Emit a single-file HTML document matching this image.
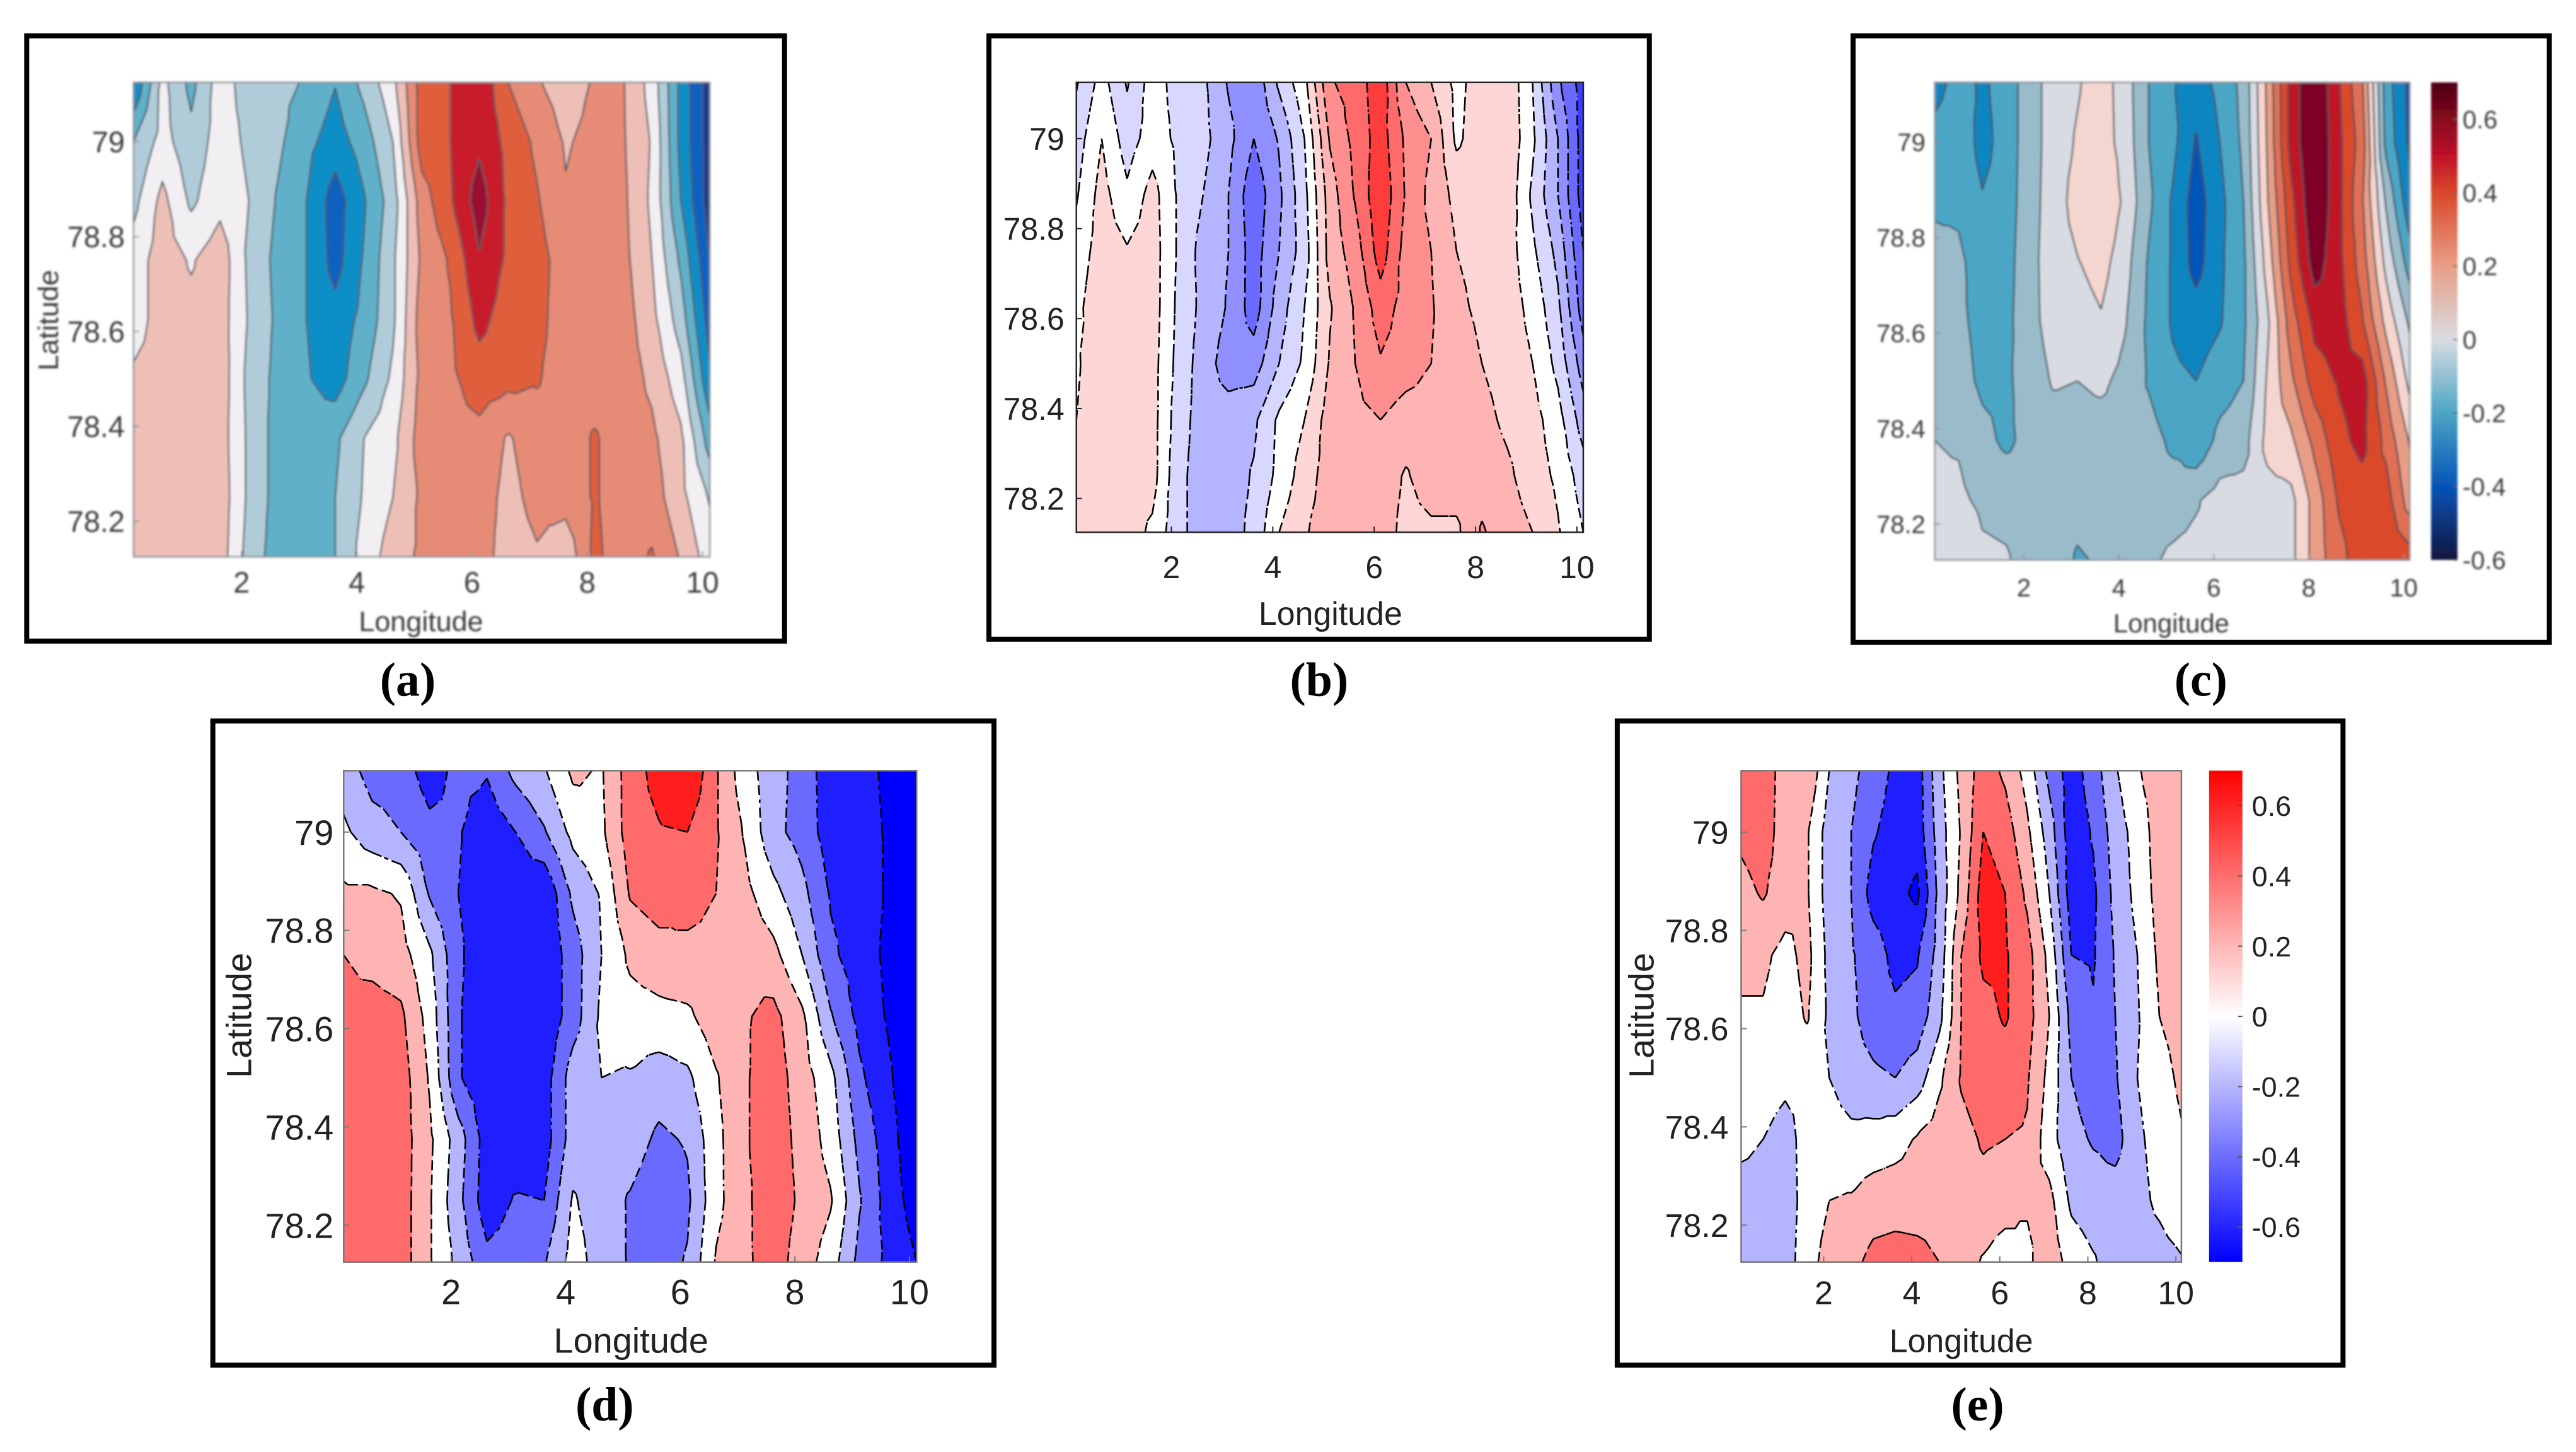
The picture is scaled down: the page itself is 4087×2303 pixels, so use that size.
<!DOCTYPE html>
<html lang="en">
<head>
<meta charset="utf-8">
<title>Latitude-longitude contour panels</title>
<style>
html,body{margin:0;padding:0;background:#fff;width:4087px;height:2303px;overflow:hidden}
svg{display:block}
text{font-family:"Liberation Sans",sans-serif}
.cap{font-family:"Liberation Serif",serif;font-weight:bold;font-size:76px;fill:#000;text-anchor:middle}
.frame{fill:#fff;stroke:#000;stroke-width:8}
.mid{text-anchor:middle}
</style>
</head>
<body>
<svg id="figure" xmlns="http://www.w3.org/2000/svg" width="4087" height="2303" viewBox="0 0 4095 2308">
  <defs>
    <filter id="soft" filterUnits="userSpaceOnUse" x="0" y="0" width="4095" height="2308"><feGaussianBlur stdDeviation="1.5"/></filter>
  </defs>
  <rect class="frame" x="42" y="57" width="1205" height="962"/>
  <rect class="frame" x="1572" y="57" width="1050" height="959"/>
  <rect class="frame" x="2946" y="57" width="1107" height="964"/>
  <rect class="frame" x="338" y="1146" width="1242" height="1024"/>
  <rect class="frame" x="2571" y="1146" width="1154" height="1024"/>

  <g id="panel-a" filter="url(#soft)">
    <text class="mid" x="669" y="1003" font-size="45" fill="#3a3a3a">Longitude</text>
    <text class="mid" transform="translate(92 509) rotate(-90)" font-size="45" fill="#3a3a3a">Latitude</text>
  </g>
  <g id="panel-b">
    <text class="mid" x="2115" y="993" font-size="52" fill="#222">Longitude</text>
  </g>
  <g id="panel-c" filter="url(#soft)">
    <text class="mid" x="3452" y="1005" font-size="42" fill="#3a3a3a">Longitude</text>
  </g>
  <g id="panel-d">
    <text class="mid" x="1003" y="2150" font-size="56" fill="#222">Longitude</text>
    <text class="mid" transform="translate(399 1614) rotate(-90)" font-size="56" fill="#222">Latitude</text>
  </g>
  <g id="panel-e">
    <text class="mid" x="3118" y="2149" font-size="52" fill="#222">Longitude</text>
    <text class="mid" transform="translate(2629 1614) rotate(-90)" font-size="56" fill="#222">Latitude</text>
  </g>

  <text class="cap" x="648" y="1106">(a)</text>
  <text class="cap" x="2097" y="1106">(b)</text>
  <text class="cap" x="3499" y="1106">(c)</text>
  <text class="cap" x="961" y="2258">(d)</text>
  <text class="cap" x="3144" y="2258">(e)</text>
</svg>

<script>
// Grid coordinates shared by all panels
const longitudes = [0.125,0.625,1.125,1.625,2.125,2.625,3.125,3.625,4.125,4.625,5.125,5.625,6.125,6.625,7.125,7.625,8.125,8.625,9.125,9.625,10.125];
const latitudes = [79.125,79,78.875,78.75,78.625,78.5,78.375,78.25,78.125];
const xTickValues = [2,4,6,8,10];
const yTickValues = [78.2,78.4,78.6,78.8,79];
const yTickLabels = ['78.2','78.4','78.6','78.8','79'];
const colorbarTickValues = [-0.6,-0.4,-0.2,0,0.2,0.4,0.6];
const colorbarTickLabels = ['-0.6','-0.4','-0.2','0','0.2','0.4','0.6'];

// Field values, in units of each panel's contour step; one row per latitude
const valuesA = [
[-3.5,-.2,-1.8,0,-1,-1.2,-1.6,-2.45,-1.2,.2,3,3.5,4.4,2.5,1.6,1,1.6,1.55,.1,-2.8,-5],
[-1.5,-.1,-1.2,0,-.7,-1.3,-2.2,-3,-2,-.5,3,3.5,4.3,3.2,2.3,1.4,1.8,1.6,.4,-2.8,-5],
[-.8,.8,-.7,.2,-.5,-1.6,-2.5,-4,-2.6,-1,2,3.4,5,3.3,2.6,1.6,2,1.7,.3,-2.5,-5],
[0,1,.4,1.1,-.7,-1.8,-2.5,-3.9,-2.4,-.7,1.7,2.6,4.4,3.3,2.9,2,2,1.8,.5,-1.7,-4.5],
[0,1,.8,1,-.6,-1.7,-2.5,-3.1,-2.2,-.7,2,2.4,3.8,3,2.8,2,2,2,.8,-1,-4],
[.7,1,1,1.1,-.8,-1.8,-2.4,-3,-1.7,-.3,1.8,2.3,3,2.8,2.6,2,2,2,1.3,-.1,-3.3],
[.6,1,1,1,-.7,-1.9,-2,-1.7,-.5,.2,2,2.2,2.2,1.4,2,2,2.6,2,1.7,.7,-2],
[.7,1,1,1.1,-.7,-1.9,-2,-1.5,-.4,.5,1.7,2,2,1.2,1.8,1.9,2.6,2,2,.8,-.6],
[.8,1,1.4,1,-.9,-2,-2,-1.5,-.1,1,1.7,2,2,1,1.4,.8,2.7,2,2.6,1.4,0]
];
const valuesB = [
[-1.6,-.1,-1.6,0,-.9,-1.3,-2.6,-3.3,-1.3,.2,3.4,3.9,5.2,2.5,1.5,.2,1,1.3,-.5,-3.3,-5],
[-1,.5,-1,0,-.7,-1.2,-2.2,-3.5,-2.4,-.5,2.6,3.8,5,3.3,2.5,.3,1.1,1.3,-.3,-2.5,-5],
[-.6,.9,-.3,.9,-.6,-1.5,-2.5,-4.2,-2.7,-.8,2,3.6,5.3,3.4,2.2,1.2,1.3,1.2,-.7,-2.5,-5],
[-.1,1,.6,1,-.6,-1.9,-2.5,-4,-2.5,-1,1.9,3,5,3.1,2.5,1.5,1.2,1,-.3,-1.8,-4.5],
[.2,1.3,1,1,-.7,-1.8,-2.6,-4,-2,-.5,1.4,2.6,4,3.1,2.6,1.7,1.3,1,.2,-1.3,-4],
[.4,1,1,.9,-.8,-2,-3,-3,-1.5,-.3,1.6,2.5,3.4,3,2.5,2,1.5,1.1,.5,-.8,-3],
[.5,1,1,.9,-1,-2,-2,-1.7,-.3,.5,2,2.2,2.5,2,2,2,1.8,1.3,.9,-.1,-2],
[.5,1,1,.9,-1.2,-2,-2,-1.4,-.2,1,2,2,2,1.4,2,2,2.1,1.7,1,.3,-1],
[.6,1,1,.3,-1.2,-2,-2,-1.2,.5,1.4,2,2,2,1.2,1.3,1.3,2.6,2,1.5,.6,-.5]
];
const valuesC = [
[-3,-2,-2.7,-2,-1,0,.4,1,0,-1.5,-2.4,-3,-2.2,-1.2,1.7,4.9,6.5,4.6,2.6,-2,-3.8],
[-2,-1.7,-2.9,-2,-1,0,.6,1,.1,-1.5,-2.2,-3.6,-2.5,-1.3,1.6,4.9,6.5,4.8,3,-1.8,-3.7],
[-1.7,-1.7,-2.4,-2,-.9,0,.9,1.5,.3,-1.3,-2.6,-4,-2.8,-1.5,1.4,4.2,6.5,4.8,2.6,-.6,-3.2],
[-1.1,-1.3,-2,-1.9,-.8,0,.45,.9,-.1,-1.6,-2.6,-3.9,-2.7,-1.7,.9,3.8,6,4.8,3,.2,-2],
[-.9,-1.3,-1.8,-1.8,-.8,-.1,0,.4,-.4,-1.7,-2.6,-3,-2.6,-1.7,.3,3,4.8,5,3.6,1.2,-.7],
[-.8,-1.1,-1.7,-1.7,-1,-.4,-.5,-.3,-.8,-1.6,-2.3,-2.5,-2,-1.5,.6,2.3,4,4.6,5,2.4,.2],
[-.5,-.6,-1.2,-1.7,-1.2,-1,-1,-1,-1,-1.1,-1.7,-2.3,-1.2,-.9,.8,1.3,2.8,4.2,4.8,3.2,1.4],
[-.3,-.3,-.7,-.8,-1,-1.1,-1.2,-1,-1,-1,-1,-.6,-.1,-.1,.1,.2,1.9,3.6,4,4,2],
[.1,.5,-.3,-.4,-.9,-1,-1.6,-1.4,-1,-.7,-.3,-.2,-.1,-.1,-.4,.2,1.9,3.2,4,4,4]
];
const valuesD = [
[-1,-1.9,-2,-3,-2.2,-2.4,-1.2,-.6,.7,.4,2,2.9,3.6,1.6,-.1,-1,-2,-3,-3.1,-3.7,-4.4],
[-.3,-1.1,-1.5,-2.2,-2.4,-3.2,-2.5,-1.6,-.2,.3,2,2.4,2.5,1.6,.4,-1.2,-1.9,-3,-3.1,-3.6,-4.4],
[.7,.7,.4,-1.6,-2.5,-3.1,-3.1,-3.4,-1.3,-.4,1.6,2,1.8,1.5,.8,-.2,-1.2,-2.6,-3,-3.6,-4.4],
[1.5,1.2,.9,-.3,-2.3,-3.3,-3.4,-3.3,-2,-.5,.7,1.1,1.3,1.3,1.3,.8,-.5,-2.3,-3,-3.7,-4.5],
[1.7,1.9,1.7,.1,-2.4,-3.2,-3.4,-3.3,-2,-.3,.1,.2,.3,1.1,1.4,1.8,.7,-1.4,-2.8,-3.6,-4.5],
[2,2,2,.4,-2.4,-3.2,-3.4,-3,-1,-.5,-.6,-1,-.7,.4,1.4,2,1,-.2,-2.3,-3.3,-4.5],
[2,2,2,.7,-1,-3,-3.3,-3,-1,-1,-1,-1.7,-1.4,.2,1.4,2,1.2,.1,-1.8,-3,-4.4],
[2,2,2,.6,-1.2,-3.1,-2.4,-2.5,-.4,-1,-1.6,-2.2,-1.7,.2,1.3,2.1,1.3,.6,-1.4,-2.9,-4],
[2,2,2,.6,-.8,-2.2,-2,-1.6,-.1,-.9,-1.6,-2,-1.4,.6,1.3,2,1,0,-1.8,-2.7,-3.5]
];
const valuesE = [
[2,2,1.1,1.4,-.5,-1.2,-2,-2.7,-3,-.8,.8,2,1.3,.1,-1.8,-3,-2,-.6,.4,1,1],
[1.7,2,1,.6,-1,-1.5,-2.4,-2.9,-3.1,-1,.6,2.5,2,.7,-1,-3.1,-2.4,-1,-.1,1,1],
[1.2,1.6,1,.6,-1,-1.5,-2.9,-3.2,-3.7,-1.2,.8,3,2.5,1.3,-.5,-3,-2.7,-1.2,-.2,.9,1],
[.7,.7,.2,.8,-.8,-1.4,-2,-2.8,-2.6,-1.1,1.5,2.7,2.6,1.9,.2,-2.5,-2.6,-1.4,-.5,.7,1],
[.4,.4,0,.6,-.7,-1.3,-2,-2.3,-2.1,-.8,1.5,2.2,2.6,1.9,.5,-1.8,-2.4,-1.5,-.6,.5,.9],
[-.1,.1,-.2,-.2,-.5,-1.1,-1.3,-1.5,-1,.3,1.6,2,2,1.6,.2,-1.5,-2,-1.6,-.5,.1,.7],
[-.2,-.5,-1,0,0,-.2,-.1,.1,.6,1,1.2,1.6,1.5,1.4,-.1,-1.2,-1.6,-1.9,-.7,-.1,.4],
[-1,-1,-1,-.1,.5,.6,1,1.1,1.1,1.1,1.1,1.2,1,.6,.8,-.7,-1,-1,-.8,-.3,.2],
[-1,-1,-1,.1,.9,1.2,1.8,1.9,1.8,1.5,1,.4,-.1,.3,1.1,.1,-.4,-1,-1,-.9,-.6]
];
const colorbarValuesC = [-0.6,-0.4,-0.2,0,0.2,0.4,0.5,0.7];
const colorbarColorsC = ['#14143f','#0555b8','#4ca5c5','#d8dce2','#e89e86','#d9482a','#be1228','#4d0016'];
const colorbarValuesE = [-0.7,0,0.7];
const colorbarColorsE = ['#0000ff','#ffffff','#ff0000'];

const paletteWarm = {'-5':'#1a3a8c','-4':'#0a62c0','-3':'#0b8ec6','-2':'#5fb0c8','-1':'#b0ccd8','0':'#f2eff2','1':'#edbfb6','2':'#e68b74','3':'#df5f3c','4':'#c91d2a','5':'#9c0a30'};
const paletteSoft = {'-5':'#3c3cff','-4':'#6a6aff','-3':'#8f8fff','-2':'#b4b4ff','-1':'#d7d7ff','0':'#ffffff','1':'#ffd6d6','2':'#ffb4b4','3':'#ff8f8f','4':'#ff6a6a','5':'#ff3c3c'};
const paletteDeep = {'-4':'#0555b8','-3':'#0e85c0','-2':'#4ca5c5','-1':'#9abcca','0':'#d8dce2','1':'#f5d5cf','2':'#e89e86','3':'#e07052','4':'#d9482a','5':'#be1228','6':'#7e0025'};
const paletteBold = {'-4':'#0000ff','-3':'#1e1eff','-2':'#6a6aff','-1':'#b4b4ff','0':'#ffffff','1':'#ffb4b4','2':'#ff6a6a','3':'#ff1e1e'};

const SVGNS = 'http://www.w3.org/2000/svg';
const figure = document.getElementById('figure');
const defs = figure.querySelector('defs');

const panels = [
 {id:'a',values:valuesA,palette:paletteWarm,box:[212,131,1128,885],tick:47,xLabelY:942,yLabelX:198,ink:'#3a3a3a',line:'#4c5560',lineW:2.5,dash:'',border:'#8a8f96'},
 {id:'b',values:valuesB,palette:paletteSoft,box:[1711,131,2517,846],tick:50,xLabelY:919,yLabelX:1692,ink:'#222',line:'#000',lineW:2.6,dash:'16 7',border:'#222'},
 {id:'c',values:valuesC,palette:paletteDeep,box:[3076,131,3831,890],tick:40,xLabelY:948,yLabelX:3061,ink:'#3a3a3a',line:'#3f4a55',lineW:2.5,dash:'',border:'#8a8f96',
  bar:{box:[3865,131,3907,890],domain:[-0.6,0.7],values:colorbarValuesC,colors:colorbarColorsC,labelX:3915,tick:40}},
 {id:'d',values:valuesD,palette:paletteBold,box:[546,1225,1457,2006],tick:56,xLabelY:2073,yLabelX:530,ink:'#222',line:'#000',lineW:2.6,dash:'16 7',border:'#777'},
 {id:'e',values:valuesE,palette:paletteBold,box:[2768,1225,3468,2006],tick:52,xLabelY:2073,yLabelX:2748,ink:'#222',line:'#000',lineW:2.6,dash:'16 7',border:'#777',
  bar:{box:[3512,1225,3565,2006],domain:[-0.7,0.7],values:colorbarValuesE,colors:colorbarColorsE,labelX:3580,tick:45}}
];

function make(tag, attrs, parent){
  const el = document.createElementNS(SVGNS, tag);
  for (const k in attrs) el.setAttribute(k, attrs[k]);
  parent.appendChild(el);
  return el;
}
function linearScale(d0, d1, r0, r1){ return v => r0 + (v - d0) / (d1 - d0) * (r1 - r0); }

function clip(poly, level, keepAbove){
  const out = [];
  for (let i = 0; i < poly.length; i++){
    const p = poly[i], q = poly[(i + 1) % poly.length];
    const pIn = keepAbove ? p.v >= level : p.v < level;
    const qIn = keepAbove ? q.v >= level : q.v < level;
    if (pIn) out.push(p);
    if (pIn !== qIn){
      const t = (level - p.v) / (q.v - p.v);
      out.push({x:p.x + t * (q.x - p.x), y:p.y + t * (q.y - p.y), v:level});
    }
  }
  return out;
}
function crossing(a, b, level){
  const t = (level - a.v) / (b.v - a.v);
  return [a.x + t * (b.x - a.x), a.y + t * (b.y - a.y)];
}

function drawPanel(cfg){
  const group = document.getElementById('panel-' + cfg.id);
  const [x0, y0, x1, y1] = cfg.box;
  const xScale = linearScale(longitudes[0], longitudes[longitudes.length - 1], x0, x1);
  const yScale = linearScale(latitudes[0], latitudes[latitudes.length - 1], y0, y1);

  // Triangulate each grid cell around its centre
  const triangles = [];
  for (let r = 0; r < latitudes.length - 1; r++){
    for (let c = 0; c < longitudes.length - 1; c++){
      const corner = (rr, cc) => ({x:xScale(longitudes[cc]), y:yScale(latitudes[rr]), v:cfg.values[rr][cc]});
      const a = corner(r, c), b = corner(r, c + 1), d = corner(r + 1, c + 1), e = corner(r + 1, c);
      const m = {x:(a.x + d.x) / 2, y:(a.y + d.y) / 2, v:(a.v + b.v + d.v + e.v) / 4};
      triangles.push([a, b, m], [b, d, m], [d, e, m], [e, a, m]);
    }
  }

  const keys = Object.keys(cfg.palette).map(Number).sort((p, q) => p - q);
  const minBand = keys[0], maxBand = keys[keys.length - 1];

  const fillGroup = make('g', {}, group);
  
  

  keys.forEach(band => {
    let d = '';
    triangles.forEach(tri => {
      let poly = tri;
      if (band > minBand) poly = clip(poly, band - 0.5, true);
      if (poly.length && band < maxBand) poly = clip(poly, band + 0.5, false);
      if (poly.length >= 3){
        d += 'M' + poly.map(p => p.x.toFixed(1) + ' ' + p.y.toFixed(1)).join('L') + 'Z';
      }
    });
    if (!d) return;
    const path = make('path', {d:d, fill:cfg.palette[band], stroke:cfg.palette[band], 'stroke-width':1.2, 'stroke-linejoin':'round'}, fillGroup);
    
    
  });

  // Contour lines at band edges
  let lineData = '';
  for (let band = minBand; band < maxBand; band++){
    const level = band + 0.5;
    triangles.forEach(tri => {
      const pts = [];
      for (let i = 0; i < 3; i++){
        const p = tri[i], q = tri[(i + 1) % 3];
        if ((p.v >= level) !== (q.v >= level)) pts.push(crossing(p, q, level));
      }
      if (pts.length === 2){
        lineData += 'M' + pts[0][0].toFixed(1) + ' ' + pts[0][1].toFixed(1) + 'L' + pts[1][0].toFixed(1) + ' ' + pts[1][1].toFixed(1);
      }
    });
  }
  const lines = make('path', {d:lineData, fill:'none', stroke:cfg.line, 'stroke-width':cfg.lineW}, group);
  if (cfg.dash) lines.setAttribute('stroke-dasharray', cfg.dash);
  
  

  const border = make('rect', {x:x0, y:y0, width:x1 - x0, height:y1 - y0, fill:'none', stroke:cfg.border, 'stroke-width':2.5}, group);
  
  

  // X axis
  xTickValues.forEach(v => {
    const x = xScale(v);
    const mark = make('line', {x1:x, x2:x, y1:y1, y2:y1 - 9, stroke:cfg.border, 'stroke-width':2}, group);
    
    
    const label = make('text', {x:x, y:cfg.xLabelY, 'font-size':cfg.tick, fill:cfg.ink, 'text-anchor':'middle'}, group);
    label.textContent = String(v);
    
    
  });

  // Y axis
  yTickValues.forEach((v, i) => {
    const y = yScale(v);
    const mark = make('line', {x1:x0, x2:x0 + 9, y1:y, y2:y, stroke:cfg.border, 'stroke-width':2}, group);
    
    
    const label = make('text', {x:cfg.yLabelX, y:y + cfg.tick * 0.36, 'font-size':cfg.tick, fill:cfg.ink, 'text-anchor':'end'}, group);
    label.textContent = yTickLabels[i];
    
    
  });

  // Colorbar
  if (cfg.bar){
    const bar = cfg.bar;
    const [bx0, by0, bx1, by1] = bar.box;
    const barScale = linearScale(bar.domain[0], bar.domain[1], by1, by0);
    const grad = make('linearGradient', {id:'bar-grad-' + cfg.id, gradientUnits:'userSpaceOnUse', x1:0, x2:0, y1:by1, y2:by0}, defs);
    bar.values.forEach((v, i) => {
      make('stop', {offset:(by1 - barScale(v)) / (by1 - by0), 'stop-color':bar.colors[i]}, grad);
    });
    const rect = make('rect', {x:bx0, y:by0, width:bx1 - bx0, height:by1 - by0, fill:'url(#bar-grad-' + cfg.id + ')'}, group);
    
    
    colorbarTickValues.forEach((v, i) => {
      const y = barScale(v);
      const mark = make('line', {x1:bx1 - 7, x2:bx1, y1:y, y2:y, stroke:'#555', 'stroke-width':2}, group);
      
      
      const label = make('text', {x:bar.labelX, y:Math.min(y + bar.tick * 0.36, by1 + bar.tick * 0.36), 'font-size':bar.tick, fill:cfg.ink}, group);
      label.textContent = colorbarTickLabels[i];
      
      
    });
  }
}
panels.forEach(drawPanel);
</script>
</body>
</html>
